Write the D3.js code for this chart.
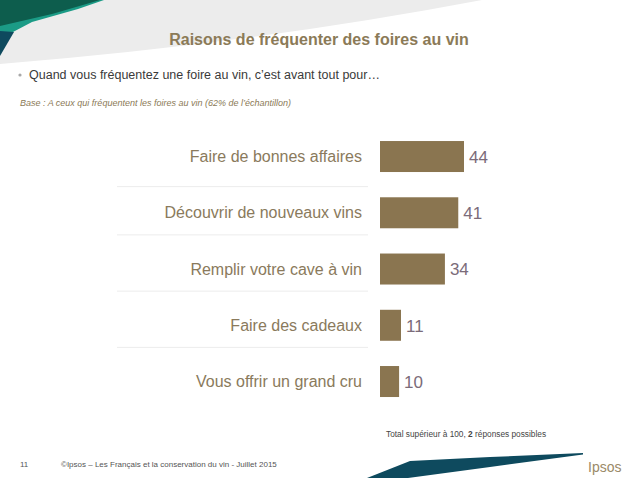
<!DOCTYPE html>
<html><head><meta charset="utf-8">
<script src="https://cdn.jsdelivr.net/npm/d3@7"></script>
<style>html,body{margin:0;padding:0;background:#fff;}svg{display:block;font-family:Arial,"Liberation Sans",sans-serif;}</style>
</head><body>
<script>
const categories = ["Faire de bonnes affaires","Découvrir de nouveaux vins","Remplir votre cave à vin","Faire des cadeaux","Vous offrir un grand cru"];
const values = [44, 41, 34, 11, 10];
const title = "Raisons de fréquenter des foires au vin";
const question = "Quand vous fréquentez une foire au vin, c’est avant tout pour…";
const base = "Base : A ceux qui fréquentent les foires au vin (62% de l’échantillon)";
const footer = "©Ipsos – Les Français et la conservation du vin - Juillet 2015";
const pageNo = "11";

const W = 638, H = 478;
const svg = d3.select("body").append("svg").attr("width", W).attr("height", H);

// decorations
svg.append("path").attr("d","M0,0 L482,0 Q250,44 0,64 Z").attr("fill","#ececec");
svg.append("path").attr("d","M0,0 L104,0 L78,9 L32,22 L13,32 L0,34 Z").attr("fill","#1b9b86");
svg.append("path").attr("d","M0,0 L100,0 L52,14 L0,26 Z").attr("fill","#0d5d4d");
svg.append("path").attr("d","M0,31 L14,32 L0,56 Z").attr("fill","#0e4a5e");
svg.append("path").attr("d","M367,478 L410,461 L490,457 L583,453 L583,454.5 L490,467 L408,478 Z").attr("fill","#0e4a5e");

// title & texts
svg.append("text").attr("x",319).attr("y",45).attr("text-anchor","middle")
  .attr("font-size",16).attr("font-weight","bold").attr("fill","#8b7a57").text(title);
svg.append("circle").attr("cx",20).attr("cy",75).attr("r",1.6).attr("fill","#a8a8a8");
svg.append("text").attr("x",29).attr("y",79).attr("font-size",12.5).attr("fill","#3a3a3a").text(question);
svg.append("text").attr("x",20).attr("y",106).attr("font-size",9).attr("font-style","italic").attr("fill","#8b7a57").text(base);

// scales
const x = d3.scaleLinear().domain([0, 44]).range([380, 464]);
const y = d3.scaleBand().domain(categories).range([128.4, 409.65]).paddingInner(0.449).paddingOuter(0.2245);

// separators
const sep = categories.slice(1);
svg.append("g").selectAll("line").data(sep).join("line")
  .attr("x1",117).attr("x2",368)
  .attr("y1",(d,i)=> y(d) - (y.step()-y.bandwidth())/2 + (i===0 ? 2 : -6))
  .attr("y2",(d,i)=> y(d) - (y.step()-y.bandwidth())/2 + (i===0 ? 2 : -6))
  .attr("stroke","#ececec").attr("stroke-width",1);

// bars
svg.append("g").selectAll("rect").data(categories).join("rect")
  .attr("x", x(0)).attr("y", d=>y(d))
  .attr("width",(d,i)=> x(values[i]) - x(0))
  .attr("height", y.bandwidth()).attr("fill","#8a7550");

// category labels
svg.append("g").selectAll("text").data(categories).join("text")
  .attr("x",362).attr("y",d=>y(d)+y.bandwidth()/2).attr("dy","0.35em")
  .attr("text-anchor","end").attr("font-size",16).attr("fill","#8a7a5c").text(d=>d);

// value labels
svg.append("g").selectAll("text").data(categories).join("text")
  .attr("x",(d,i)=>x(values[i])+5).attr("y",d=>y(d)+y.bandwidth()/2).attr("dy","0.38em")
  .attr("font-size",17).attr("fill","#7b6b79").text((d,i)=>values[i]);

// footer
svg.append("text").attr("x",386).attr("y",437).attr("font-size",8.3).attr("fill","#444")
  .call(t=>{t.append("tspan").text("Total supérieur à 100, ");t.append("tspan").attr("font-weight","bold").text("2");t.append("tspan").text(" réponses possibles");});
svg.append("text").attr("x",20).attr("y",467).attr("font-size",8).attr("fill","#555").text(pageNo);
svg.append("text").attr("x",61).attr("y",467).attr("font-size",8).attr("fill","#555").text(footer);
svg.append("text").attr("x",588).attr("y",472).attr("font-size",14).attr("fill","#9a8a68").text("Ipsos");
</script>
</body></html>
